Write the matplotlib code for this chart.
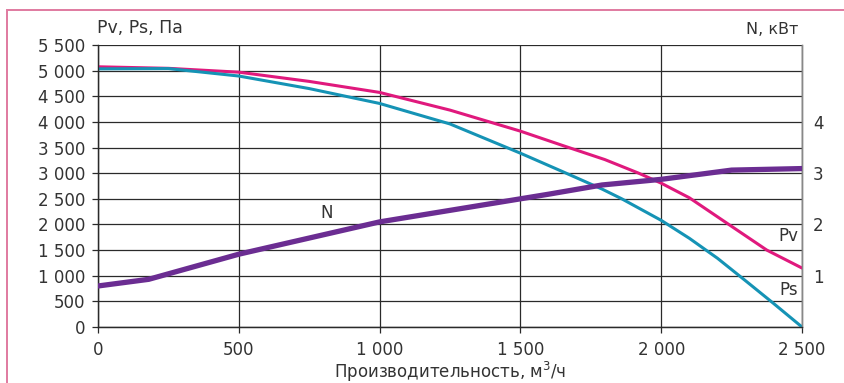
import matplotlib
matplotlib.use("Agg")
import matplotlib.pyplot as plt
from matplotlib.patches import Rectangle

# Fan performance curves
flow_pv = [0, 250, 500, 750, 1000, 1250, 1500, 1650, 1800, 1920, 2000, 2100, 2240, 2375, 2500]
pv = [5075, 5045, 4970, 4790, 4575, 4230, 3820, 3540, 3265, 3000, 2805, 2520, 2000, 1500, 1150]

flow_ps = [0, 250, 500, 750, 1000, 1250, 1500, 1650, 1790, 1860, 2000, 2100, 2200, 2300, 2400, 2500]
ps = [5035, 5040, 4895, 4650, 4360, 3960, 3390, 3030, 2690, 2500, 2080, 1730, 1340, 900, 455, 0]

flow_n = [0, 180, 500, 1000, 1500, 1600, 1790, 2000, 2250, 2500]
power = [0.80, 0.93, 1.42, 2.05, 2.50, 2.59, 2.77, 2.88, 3.06, 3.09]

x_ticks = [0, 500, 1000, 1500, 2000, 2500]
y_ticks = list(range(0, 5501, 500))
n_ticks = [1, 2, 3, 4]


def fmt(v):
    return f"{v:,}".replace(",", " ")


plt.rcParams['font.family'] = ['DejaVu Sans']
text_color = '#333333'
grid_color = '#2a2a2a'

fig = plt.figure(figsize=(8.45, 3.83), dpi=100)
ax = fig.add_axes([98 / 845, 1 - 327 / 383, 704 / 845, 282 / 383])

ax.plot(flow_pv, pv, color='#e0197d', lw=2.2, solid_capstyle='round', zorder=3)
ax.plot(flow_ps, ps, color='#1593b5', lw=2.2, solid_capstyle='round', zorder=3)

ax2 = ax.twinx()
ax2.plot(flow_n, power, color='#6b2d92', lw=3.8, solid_capstyle='round', zorder=3)

ax.set_xlim(0, 2500)
ax.set_ylim(0, 5500)
ax2.set_ylim(0, 5.5)

ax.set_xticks(x_ticks)
ax.set_xticklabels([fmt(v) for v in x_ticks])
ax.set_yticks(y_ticks)
ax.set_yticklabels([fmt(v) for v in y_ticks])
ax2.set_yticks(n_ticks)
ax2.set_yticklabels([str(v) for v in n_ticks])

ax.grid(True, color=grid_color, lw=0.9)
ax.tick_params(axis='both', colors=grid_color, labelcolor=text_color, labelsize=12,
               length=4, width=0.9)
ax.tick_params(axis='x', pad=6)
ax.tick_params(axis='y', pad=5)
ax2.tick_params(axis='y', length=0, pad=8, labelcolor=text_color, labelsize=12)

for a in (ax, ax2):
    a.spines['top'].set_visible(False)
    a.spines['right'].set_color('#888888')
    a.spines['right'].set_linewidth(1.0)
    a.spines['left'].set_color(grid_color)
    a.spines['bottom'].set_color(grid_color)
    a.spines['left'].set_linewidth(0.9)
    a.spines['bottom'].set_linewidth(0.9)

# axis titles
fig.text(450 / 845, 1 - 378 / 383, 'Производительность, м$^3$/ч', ha='center', va='baseline',
         fontsize=12, color=text_color)
fig.text(97 / 845, 1 - 28 / 383, 'Pv, Ps, Па', ha='left', va='center', fontsize=12.5, color=text_color)
fig.text(798 / 845, 1 - 30 / 383, 'N, кВт', ha='right', va='center', fontsize=11.5, color=text_color)

# curve labels
ax.text(2486, 1774, 'Pv', ha='right', va='center', fontsize=12, color=text_color, zorder=4)
ax.text(2486, 720, 'Ps', ha='right', va='center', fontsize=12, color=text_color, zorder=4)
ax.text(812, 2223, 'N', ha='center', va='center', fontsize=12, color=text_color, zorder=4)

# pink frame around the picture
fig.patches.append(Rectangle((7 / 845, -0.1), 1.2, 1 - 10 / 383 + 0.1, transform=fig.transFigure,
                             fill=False, edgecolor='#e07aa0', lw=1.4))

fig.savefig('out.png', dpi=100)
